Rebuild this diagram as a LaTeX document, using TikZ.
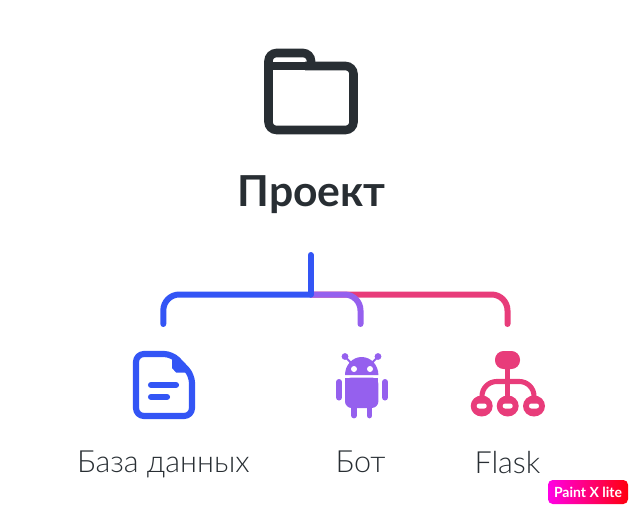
\documentclass[tikz,border=0pt]{standalone}
\usepackage{fontspec}
\setmainfont{Lato}
\newfontfamily\lightfont{Lato Light}
\usetikzlibrary{positioning}
\definecolor{inkdark}{HTML}{282E33}
\definecolor{inkblue}{HTML}{3355F5}
\definecolor{inkpurple}{HTML}{9560EE}
\definecolor{inkpink}{HTML}{E83C7A}
\tikzset{
  branch/.style={line width=4.5pt, line cap=round, rounded corners=12pt},
  caption/.style={text=inkdark, font=\lightfont\fontsize{22.9}{26}\selectfont, inner sep=0pt},
}
\begin{document}
\begin{tikzpicture}[x=0.75pt, y=-0.75pt]
  \useasboundingbox (0,0) rectangle (638,513);

  % Ordner
  \draw[inkdark, line width=6.4pt, rounded corners=6pt] (268.5,100) -- (268.5,53) -- (311,53) -- (311,68);
  \draw[inkdark, line width=6.4pt] (268.5,66) -- (311,66);
  \draw[inkdark, line width=6.4pt, rounded corners=6pt] (305,66) -- (353.5,66) -- (353.5,130) -- (268.5,130) -- (268.5,90);
  \node[inkdark, inner sep=0pt, font=\fontsize{32}{36}\bfseries\selectfont] (title) at (311.5,195) {Проект};

  % Anschlusspunkte
  \coordinate (stemtop) at (310.7,255);
  \coordinate (hub) at (310.7,294.5);
  \coordinate (dbtop) at (163.3,324);
  \coordinate (bottop) at (360.5,324);
  \coordinate (flasktop) at (507.5,324);

  % Klammer
  \draw[branch, inkpink] (hub) -| (flasktop);
  \draw[branch, inkpurple] (hub) -| (bottop);
  \draw[branch, inkblue] (hub) -| (dbtop);
  \draw[branch, inkblue] (stemtop) -- (hub);

  % Dokument
  \draw[inkblue, line width=4.6pt, line join=round, rounded corners=6pt] (172,354) -- (136,354) -- (136,416) -- (192,416) -- (192,375) -- cycle;
  \fill[inkblue] (172,354) -- (172,368) -- (176,372.5) -- (192,372.5) -- cycle;
  \draw[inkblue, line width=4.6pt, line cap=round] (151,385) -- (176,385);
  \draw[inkblue, line width=4.6pt, line cap=round] (151,397) -- (167,397);

  % Android
  \fill[inkpurple] (345,375) arc[start angle=180, end angle=360, x radius=16.7, y radius=18] -- cycle;
  \fill[white] (354,369) circle[radius=3] (370,369) circle[radius=3];
  \draw[inkpurple, line width=1.5pt] (345,356.5) -- (352,364) (378,356.5) -- (371,364);
  \fill[inkpurple] (345,356.5) circle[radius=3.4] (378,356.5) circle[radius=3.4];
  \fill[inkpurple, rounded corners=5pt] (345,377.5) -- (378.4,377.5) -- (378.4,408) -- (345,408) -- cycle;
  \fill[inkpurple] (345,377.5) rectangle (378.4,395);
  \draw[inkpurple, line width=4.5pt, line cap=round] (339,382) -- (339,397.5) (385,382) -- (385,397.5);
  \draw[inkpurple, line width=4.3pt, line cap=round] (354,405) -- (354,415.5) (369.5,405) -- (369.5,415.5);

  % Netz
  \fill[inkpink, rounded corners=6.5pt] (495,351) rectangle (520,369);
  \draw[inkpink, line width=3.8pt] (507.7,365) -- (507.7,400);
  \draw[inkpink, line width=3.8pt, rounded corners=11pt] (482,400) -- (482,381.5) -- (534,381.5) -- (534,400);
  \foreach \x in {481.7,507.7,534} {
    \fill[inkpink] (\x,406) ellipse[x radius=11, y radius=10.5];
    \fill[white, rounded corners=1.8pt] (\x-5,403.5) rectangle (\x+5,408.5);
  }

  % Beschriftungen
  \node[caption, below=95pt of dbtop] (db) {База данных};
  \node[caption, below=95pt of bottop] (bot) {Бот};
  \node[caption, below=95pt of flasktop] (flask) {Flask};

  \node[text=white, font=\fontsize{10.5}{12}\bfseries\selectfont, left color=magenta!90!red, right color=red!95!magenta, rounded corners=3.5pt, minimum width=60pt, minimum height=18pt, inner sep=0pt] (badge) at (588,492) {Paint X lite};
\end{tikzpicture}
\end{document}
